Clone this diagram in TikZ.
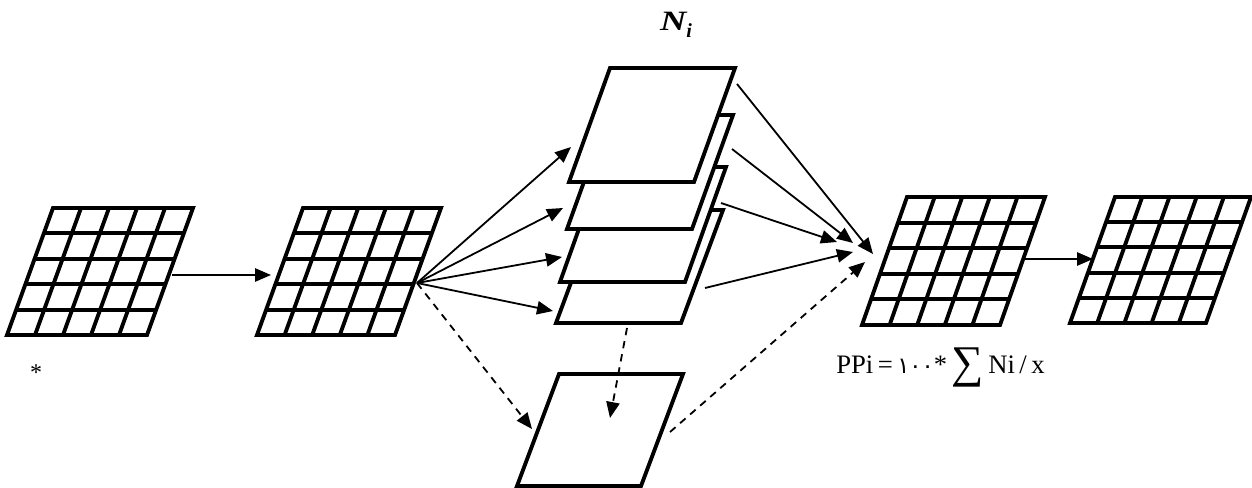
\documentclass[tikz,border=0pt]{standalone}
\usepackage{fontspec}
\setmainfont{Liberation Serif}
\newfontfamily\arabicdigits{DejaVu Sans}
\usetikzlibrary{arrows.meta}
\newcommand\drawgrid[6]{% name x y w h s
  \begin{scope}[shift={(#2,#3)}]
    \foreach \k in {1,...,4} {
      \draw[gridline] ({-#6*\k/5},{#5*\k/5}) -- ({#4-#6*\k/5},{#5*\k/5});
      \draw[gridline] ({#4*\k/5},0) -- ({#4*\k/5-#6},#5);
    }
    \draw[gridline] (0,0) -- (#4,0) -- (#4-#6,#5) -- (-#6,#5) -- cycle;
    \coordinate (#1) at ({#4/2-#6/2},{#5/2});
  \end{scope}}
\newcommand\drawplane[6]{% name x y w h s
  \begin{scope}[shift={(#2,#3)}]
    \draw[planeline] (0,0) -- (#4,0) -- (#4-#6,#5) -- (-#6,#5) -- cycle;
    \coordinate (#1) at ({#4/2-#6/2},{#5/2});
  \end{scope}}
\begin{document}
\begin{tikzpicture}[x=0.75pt,y=-0.75pt,
  gridline/.style={line width=2.9pt, line join=miter},
  planeline/.style={line width=2.9pt, line join=miter, fill=white},
  arr/.style={line width=1.35pt, -{Triangle[length=12pt,width=10pt]}},
  darr/.style={arr, dash pattern=on 5.5pt off 4.5pt},
]
\useasboundingbox (0,0) rectangle (1252,488);
% grids
\drawgrid{g1}{53}{208}{140}{127}{46}
\drawgrid{g2}{303}{208}{138}{127}{46}
\drawgrid{g3}{907}{197}{138}{128}{45}
\drawgrid{g4}{1115}{197}{136}{126}{45}
% stacked planes (bottom first)
\drawplane{p4}{598}{210}{125}{113}{42}
\drawplane{p3}{601}{167}{125}{115}{41}
\drawplane{p2}{608}{115}{125}{114}{41}
\drawplane{p1}{610}{68}{125}{114}{41}
\drawplane{p5}{559}{374}{124}{112}{42}
% connector end points
\coordinate (g1r) at (172,275);
\coordinate (g2l) at (271,275);
\coordinate (g3r) at (1023,259);
\coordinate (g4l) at (1093,259);
\coordinate (fan) at (417,283);
\coordinate (t1) at (571,147);
\coordinate (t2) at (563,208);
\coordinate (t3) at (562,257);
\coordinate (t4) at (553,311);
\coordinate (t5) at (532,429);
\coordinate (s1) at (737,84);
\coordinate (s2) at (732,149);
\coordinate (s3) at (721,203);
\coordinate (s4) at (705,288);
\coordinate (u1) at (873,254);
\coordinate (u2) at (853,243);
\coordinate (u3) at (837,242);
\coordinate (u4) at (853,252);
\coordinate (p4b) at (627,328);
\coordinate (p5in) at (610,418);
\coordinate (p5r) at (670,432);
\coordinate (u5) at (865,262);
% connectors
\draw[arr] (g1r) -- (g2l);
\draw[arr] (g3r) -- (g4l);
\foreach \t in {t1,t2,t3,t4} \draw[arr] (fan) -- (\t);
\draw[darr] (fan) -- (t5);
\draw[arr] (s1) -- (u1);
\draw[arr] (s2) -- (u2);
\draw[arr] (s3) -- (u3);
\draw[arr] (s4) -- (u4);
\draw[darr] (p4b) -- (p5in);
\draw[darr] (p5r) -- (u5);
% texts
\node[anchor=base, inner sep=0pt, font=\fontsize{21}{24}\selectfont\bfseries\itshape] (ni) at (676,31)
  {\scalebox{1.3}[1]{N}\raisebox{-0.22em}{\fontsize{15}{17}\selectfont i}};
\node[inner sep=0pt, font=\fontsize{18}{20}\selectfont] (star) at (36,373) {*};
\node[anchor=base west, inner sep=0pt, font=\fontsize{20}{24}\selectfont] (pp) at (836,373)
  {PPi\,=\,{\arabicdigits\fontsize{17}{20}\selectfont ١٠٠}*\,\raisebox{-0.15em}{\scalebox{1.7}{∑}}\,Ni\,/\,x};
\end{tikzpicture}
\end{document}
